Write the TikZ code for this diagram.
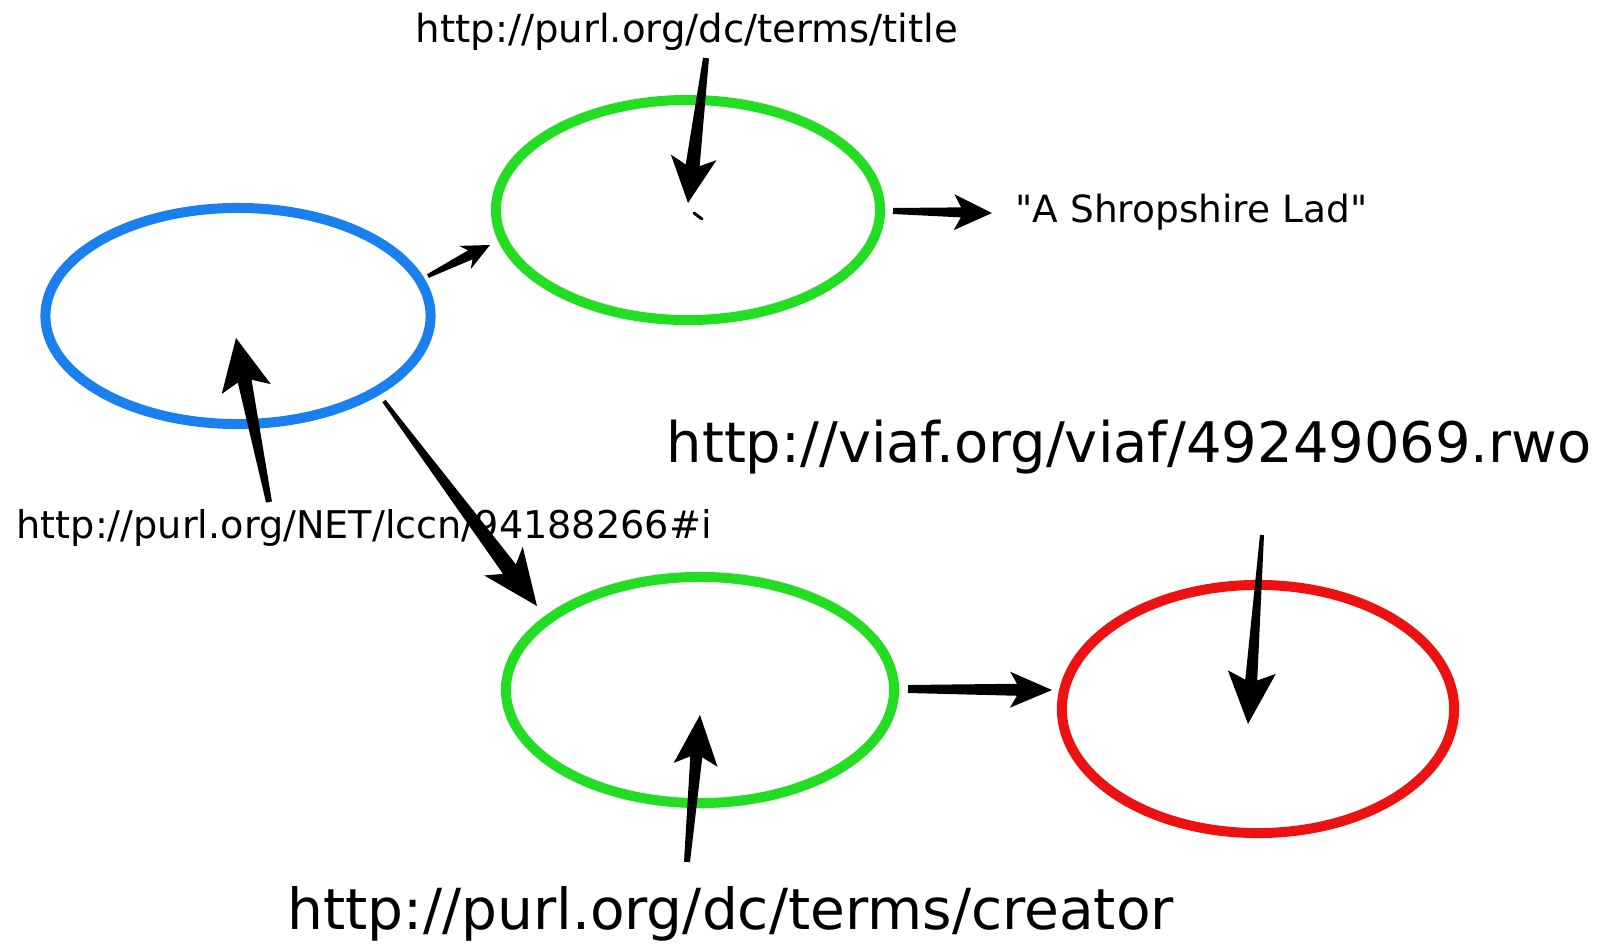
\documentclass[tikz,border=0pt]{standalone}
\usepackage{fontspec}
\setmainfont{DejaVu Sans}[Ligatures=TeXOff]
\usetikzlibrary{shapes.geometric,calc}
\definecolor{nodeblue}{RGB}{26,128,240}
\definecolor{nodegreen}{RGB}{34,221,34}
\definecolor{nodered}{RGB}{238,17,17}
% tail, tip, tail half width, joint half width, head half width, head length, joint length
\newcommand{\fatarrow}[7]{%
  \coordinate (fa-j) at ($(#2)!#7!(#1)$);
  \coordinate (fa-w) at ($(#2)!#6!(#1)$);
  \fill[arrowfill] ($(#1)!#3!90:(#2)$) -- ($(fa-j)!#4!90:(#2)$) -- ($(fa-w)!#5!90:(#2)$)
    -- (#2) -- ($(fa-w)!#5!-90:(#2)$) -- ($(fa-j)!#4!-90:(#2)$) -- ($(#1)!#3!-90:(#2)$) -- cycle;
}
\tikzset{
  ell/.style={ellipse, draw, line width=0.1cm, inner sep=0pt, fill=none},
  txt/.style={inner sep=0pt, anchor=base west, text=black},
  arrowfill/.style={fill=black, draw=none},
}
\begin{document}
\begin{tikzpicture}[x=0.01cm, y=-0.01cm]
\useasboundingbox[fill=white] (0,0) rectangle (1617,945);

% ellipses
\node[ell, draw=nodeblue, minimum width=3.85cm, minimum height=2.16cm] (blue) at (238,316) {};
\node[ell, draw=nodegreen, minimum width=3.84cm, minimum height=2.20cm] (gtop) at (688,210) {};
\node[ell, draw=nodegreen, minimum width=3.88cm, minimum height=2.26cm] (gbot) at (700,690) {};
\node[ell, draw=nodered, minimum width=3.92cm, minimum height=2.48cm] (red) at (1258,709) {};

% texts
\node[txt, font=\fontsize{11}{13}\selectfont] (ttitle) at (415,42) {http://purl.org/dc/terms/title};
\node[txt, font=\fontsize{10.65}{13}\selectfont] (tshrop) at (1015,222) {"A Shropshire Lad"};
\node[txt, font=\fontsize{10.86}{13}\selectfont] (tlccn) at (16,538) {http://purl.org/NET/lccn/94188266\#i};
\node[txt, font=\fontsize{15.9}{19}\selectfont] (tviaf) at (666,462) {http://viaf.org/viaf/49249069.rwo};
\node[txt, font=\fontsize{16.1}{19}\selectfont] (tcreator) at (287,929) {http://purl.org/dc/terms/creator};

% connector end points (relative to the nodes)
\coordinate (a1s) at ($(ttitle.base west)+(291,16)$);
\coordinate (a1e) at ($(gtop.center)+(0,-7)$);
\coordinate (a2s) at ($(blue.center)+(190,-40)$);
\coordinate (a2e) at ($(gtop.center)+(-198,35)$);
\coordinate (a3s) at ($(gtop.center)+(205,1)$);
\coordinate (a3e) at ($(tshrop.base west)+(-23,-9)$);
\coordinate (a4s) at ($(tlccn.base west)+(253,-36)$);
\coordinate (a4e) at ($(blue.center)+(-2,22)$);
\coordinate (a5s) at ($(blue.center)+(146,85)$);
\coordinate (a5e) at ($(gbot.center)+(-163,-84)$);
\coordinate (a6s) at ($(gbot.center)+(208,-1)$);
\coordinate (a6e) at ($(red.center)+(-206,-19)$);
\coordinate (a7s) at ($(tcreator.base west)+(400,-67)$);
\coordinate (a7e) at ($(gbot.center)+(0,25)$);
\coordinate (a8s) at ($(tviaf.base west)+(596,73)$);
\coordinate (a8e) at ($(red.center)+(-10,15)$);

% arrows
\fatarrow{a1s}{a1e}{0.03cm}{0.07cm}{0.23cm}{0.46cm}{0.38cm}
\fatarrow{a2s}{a2e}{0.02cm}{0.05cm}{0.13cm}{0.28cm}{0.22cm}
\fatarrow{a3s}{a3e}{0.03cm}{0.05cm}{0.18cm}{0.38cm}{0.31cm}
\fatarrow{a4s}{a4e}{0.03cm}{0.07cm}{0.25cm}{0.52cm}{0.44cm}
\fatarrow{a5s}{a5e}{0.02cm}{0.08cm}{0.24cm}{0.56cm}{0.46cm}
\fatarrow{a6s}{a6e}{0.04cm}{0.06cm}{0.18cm}{0.42cm}{0.35cm}
\fatarrow{a7s}{a7e}{0.03cm}{0.06cm}{0.22cm}{0.50cm}{0.42cm}
\fatarrow{a8s}{a8e}{0.02cm}{0.06cm}{0.24cm}{0.52cm}{0.44cm}

% small stray mark inside the upper green ellipse
\coordinate (m1) at ($(gtop.center)+(6,3)$);
\coordinate (m2) at ($(gtop.center)+(14,9)$);
\draw[line width=0.03cm, line cap=round] (m1) -- (m2);
\end{tikzpicture}
\end{document}
